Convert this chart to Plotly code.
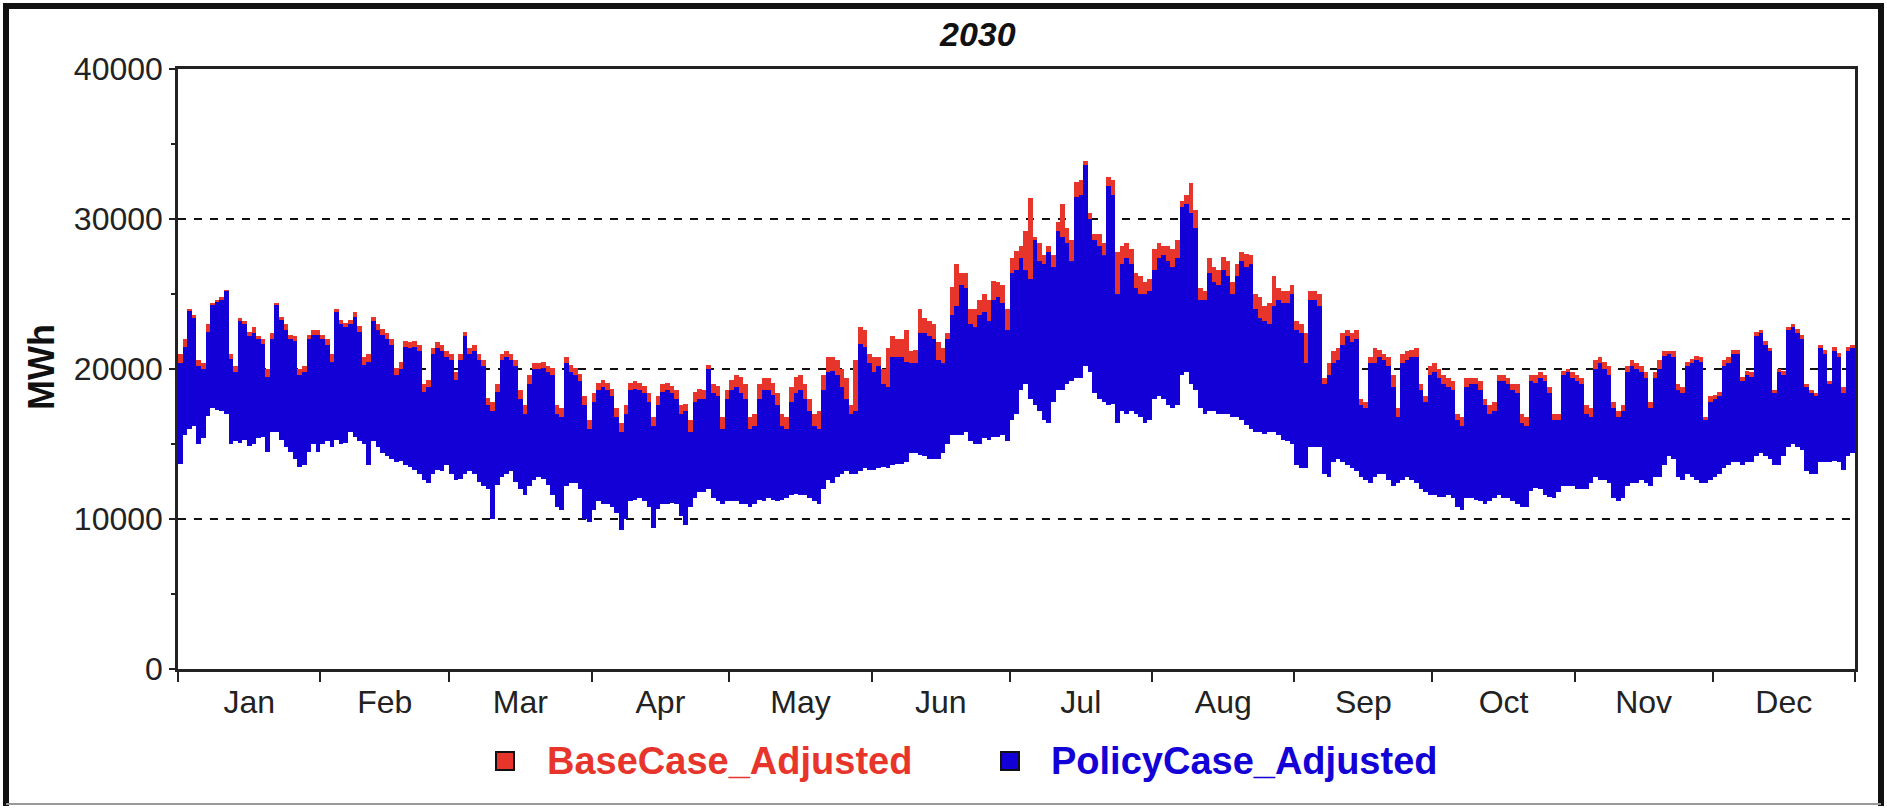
import pandas as pd
import plotly.graph_objects as go

# Daily load envelope for 2030, in GWh (thousand MWh) per hour.
# policy_peak / policy_trough: daily max / min of PolicyCase_Adjusted.
# base_peak: daily max of BaseCase_Adjusted.
policy_peak = [
    20.4, 21.5, 23.9, 23.4, 20.2, 20.0, 22.5, 24.3, 24.5, 24.6, 25.2, 20.7, 19.8, 23.2, 23.0, 22.2, 22.4, 22.0, 21.7, 19.5,
    22.0, 24.3, 23.3, 22.6, 22.0, 21.9, 19.6, 19.8, 22.0, 22.3, 22.3, 22.0, 21.6, 20.5, 23.8, 23.0, 22.8,
    23.0, 23.5, 22.5, 20.3, 20.5, 23.2, 22.6, 22.3, 22.0, 21.6, 19.6, 20.0, 21.5, 21.4, 21.5, 21.2, 18.5, 18.8, 21.0, 21.4,
    21.2, 20.8, 20.6, 19.3, 20.6, 22.2, 21.0, 21.2, 20.6, 20.2, 17.6, 17.2, 18.5, 20.6, 20.8, 20.6,
    20.2, 18.0, 17.0, 19.0, 20.0, 20.0, 20.1, 19.8, 19.6, 17.0, 16.8, 20.4, 19.8, 19.6, 19.2, 17.6, 16.0, 17.8, 18.6, 18.8,
    18.6, 18.2, 16.8, 15.8, 17.0, 18.6, 18.7, 18.6, 18.4, 17.8, 16.2, 17.6, 18.5, 18.6, 18.4, 18.0, 17.0,
    17.2, 15.8, 17.8, 18.0, 18.0, 20.0, 18.4, 18.2, 16.0, 18.0, 18.6, 18.8, 18.4, 18.0, 16.0, 16.2, 18.0, 18.6, 18.6, 18.3,
    17.6, 16.2, 16.0, 17.8, 18.4, 18.6, 18.0, 17.2, 16.2, 16.0, 18.6, 19.8, 19.9, 19.6, 18.8, 18.0,
    17.0, 17.2, 21.7, 21.5, 20.4, 19.8, 20.2, 19.0, 18.8, 20.8, 20.8, 20.8, 20.5, 20.4, 20.4, 22.4, 22.4, 22.2, 22.0, 20.6,
    20.4, 22.0, 23.6, 24.2, 25.6, 25.4, 23.0, 22.8, 23.6, 23.8, 23.2, 24.6, 24.8, 24.4, 22.6, 26.4, 26.6,
    27.4, 26.6, 26.0, 28.6, 27.2, 27.0, 27.8, 26.8, 29.2, 28.8, 28.4, 27.2, 31.5, 31.6, 33.6, 30.0, 28.6, 28.2, 27.6, 32.2,
    31.6, 25.0, 27.0, 27.4, 27.0, 25.4, 25.0, 25.0, 25.2, 26.6, 27.4, 27.6, 27.2, 26.8, 27.4, 30.8, 31.0,
    30.4, 29.4, 24.6, 24.6, 26.4, 25.8, 25.6, 26.6, 26.2, 25.0, 26.2, 27.2, 26.8, 27.0, 24.0, 23.4, 23.2, 23.0, 24.2, 24.6,
    24.4, 24.4, 25.0, 22.6, 22.4, 20.4, 24.6, 24.6, 24.2, 19.0, 19.6, 20.4, 20.6, 21.6, 22.2, 21.8,
    22.0, 17.6, 17.4, 20.4, 20.4, 20.8, 20.6, 20.2, 18.8, 16.8, 20.4, 20.6, 20.8, 20.8, 18.6, 17.8, 19.6, 19.8, 19.4, 19.0,
    18.8, 18.6, 16.6, 16.2, 18.8, 19.0, 19.0, 18.6, 17.6, 17.0, 17.2, 19.2, 19.2, 19.0, 18.6, 18.4,
    16.4, 16.2, 19.2, 19.1, 19.4, 19.2, 18.4, 16.6, 16.6, 19.6, 19.8, 19.4, 19.2, 19.0, 17.0, 16.8, 20.0, 20.4, 20.0, 19.6,
    17.4, 16.8, 17.2, 19.8, 20.2, 20.0, 19.8, 19.4, 17.4, 19.4, 20.0, 20.9, 21.0, 20.8, 18.6, 18.4, 20.2,
    20.4, 20.6, 20.5, 16.6, 17.8, 18.0, 18.2, 20.2, 20.4, 21.0, 21.0, 19.2, 19.6, 19.5, 22.2, 22.4, 21.6, 21.2, 18.4, 19.8,
    19.6, 22.6, 22.8, 22.4, 22.0, 18.8, 18.4, 18.2, 21.4, 21.0, 19.0, 21.2, 20.8, 18.4, 21.2, 21.4,
]

policy_trough = [
    13.7, 15.6, 16.0, 16.2, 15.0, 15.4, 16.9, 17.4, 17.3, 17.2, 17.0, 15.0, 15.2, 15.1, 15.3, 14.9, 15.0, 15.4, 15.5, 14.5,
    15.8, 15.8, 15.3, 14.8, 14.5, 14.0, 13.5, 13.6, 14.5, 15.0, 14.5, 15.0, 15.2, 14.8, 15.3, 15.0, 15.1,
    15.8, 15.5, 15.2, 15.0, 13.6, 15.2, 14.8, 14.4, 14.2, 14.0, 13.8, 13.9, 13.6, 13.5, 13.3, 13.0, 12.6, 12.4, 13.0, 13.3,
    13.2, 13.6, 13.0, 12.6, 12.7, 13.0, 13.2, 13.0, 12.5, 12.2, 12.0, 10.0, 12.3, 12.8, 13.0, 13.2,
    12.5, 12.0, 11.6, 12.2, 12.6, 12.8, 12.7, 12.3, 11.6, 10.8, 10.6, 12.2, 12.4, 12.4, 12.0, 10.0, 9.8, 10.6, 11.2, 11.0,
    11.0, 10.8, 10.4, 9.3, 10.0, 11.2, 11.3, 11.4, 11.2, 10.8, 9.4, 10.7, 11.0, 11.0, 11.1, 11.0, 10.2,
    9.6, 10.8, 11.4, 11.8, 11.8, 12.0, 11.4, 11.2, 11.0, 11.2, 11.2, 11.2, 11.0, 11.0, 10.8, 11.0, 11.3, 11.2, 11.4, 11.3,
    11.2, 11.3, 11.4, 11.6, 11.7, 11.6, 11.6, 11.4, 11.2, 11.0, 12.0, 12.6, 12.4, 12.8, 13.0, 13.2,
    13.0, 13.0, 13.2, 13.4, 13.3, 13.3, 13.4, 13.5, 13.4, 13.6, 13.7, 13.7, 13.8, 14.4, 14.4, 14.3, 14.2, 14.0, 14.0, 14.0,
    14.4, 15.0, 15.6, 15.6, 15.6, 15.8, 15.2, 15.0, 15.0, 15.4, 15.3, 15.5, 15.5, 15.6, 15.2, 16.6, 17.0,
    18.6, 19.0, 18.0, 17.6, 17.2, 16.6, 16.4, 17.8, 18.6, 18.6, 19.0, 19.2, 19.4, 19.4, 20.2, 19.8, 18.4, 18.0, 17.8, 17.6,
    17.7, 16.4, 17.2, 17.0, 17.2, 17.0, 16.8, 16.4, 16.6, 18.0, 18.2, 18.0, 17.6, 17.4, 17.6, 19.6, 19.8,
    19.0, 18.6, 17.4, 17.0, 17.2, 17.2, 17.0, 17.0, 17.0, 16.8, 16.8, 16.6, 16.3, 16.0, 15.8, 15.8, 15.7, 15.8, 15.8, 15.6,
    15.3, 15.2, 15.0, 13.6, 13.4, 13.4, 14.8, 14.8, 14.8, 13.0, 12.8, 13.8, 14.0, 13.8, 13.6, 13.4,
    13.2, 12.8, 12.6, 12.4, 12.8, 13.0, 13.0, 12.6, 12.2, 12.4, 12.6, 12.8, 12.6, 12.4, 12.0, 11.8, 11.6, 11.6, 11.5, 11.5,
    11.6, 11.4, 10.8, 10.6, 11.4, 11.4, 11.3, 11.2, 11.0, 11.2, 11.4, 11.6, 11.4, 11.4, 11.2, 11.0,
    10.8, 10.8, 11.9, 12.1, 12.0, 11.6, 11.5, 11.4, 11.8, 12.2, 12.2, 12.2, 12.0, 12.0, 12.0, 12.4, 12.8, 12.6, 12.6, 12.4,
    11.4, 11.2, 11.4, 12.2, 12.4, 12.4, 12.6, 12.4, 12.2, 12.8, 12.8, 13.6, 14.2, 14.0, 12.8, 12.6, 13.0,
    12.8, 12.6, 12.4, 12.4, 12.6, 12.8, 13.0, 13.4, 13.6, 13.8, 13.8, 13.6, 13.8, 13.8, 14.2, 14.4, 14.2, 14.0, 13.6, 13.6,
    14.2, 14.8, 15.0, 14.8, 14.6, 13.2, 13.0, 13.0, 13.8, 13.8, 13.8, 13.9, 13.8, 13.3, 14.2, 14.4,
]

base_peak = [
    21.0, 22.0, 24.0, 23.6, 20.6, 20.4, 23.0, 24.4, 24.6, 24.8, 25.3, 21.0, 20.2, 23.4, 23.2, 22.5, 22.8, 22.2, 22.0, 20.0,
    22.4, 24.4, 23.5, 23.0, 22.3, 22.2, 20.0, 20.2, 22.3, 22.6, 22.6, 22.3, 22.0, 21.0, 24.0, 23.3, 23.1,
    23.3, 23.8, 22.9, 20.8, 21.0, 23.5, 23.0, 22.7, 22.4, 22.0, 20.1, 20.5, 21.9, 21.8, 21.9, 21.6, 19.0, 19.3, 21.4, 21.8,
    21.6, 21.2, 21.0, 19.8, 21.0, 22.5, 21.4, 21.6, 21.0, 20.6, 18.1, 17.8, 19.0, 21.0, 21.2, 21.0,
    20.6, 18.6, 17.6, 19.6, 20.4, 20.4, 20.5, 20.2, 20.1, 17.6, 17.4, 20.8, 20.3, 20.1, 19.7, 18.2, 16.6, 18.4, 19.1, 19.3,
    19.1, 18.7, 17.4, 16.4, 17.6, 19.1, 19.2, 19.1, 18.9, 18.4, 16.8, 18.2, 19.0, 19.1, 18.9, 18.6, 17.6,
    17.7, 16.6, 18.5, 18.7, 18.6, 20.3, 19.0, 18.9, 16.8, 18.6, 19.3, 19.6, 19.5, 19.0, 16.8, 17.0, 19.0, 19.4, 19.4, 19.1,
    18.4, 17.0, 16.8, 18.8, 19.5, 19.6, 19.0, 18.0, 17.0, 17.2, 19.6, 20.8, 20.8, 20.6, 20.0, 19.4,
    17.6, 20.6, 22.8, 22.6, 21.0, 20.8, 20.8, 20.0, 21.4, 22.2, 22.0, 22.0, 22.6, 21.2, 21.3, 24.0, 23.4, 23.2, 23.0, 21.8,
    21.4, 22.4, 25.5, 27.0, 26.4, 26.4, 24.0, 24.0, 24.6, 25.0, 24.6, 25.9, 25.8, 25.6, 24.0, 27.4, 27.9,
    28.2, 29.2, 31.4, 28.8, 28.4, 27.6, 28.2, 27.6, 29.8, 31.0, 29.4, 28.6, 32.5, 32.6, 33.9, 30.4, 29.0, 29.0, 28.4, 32.8,
    32.6, 27.8, 28.2, 28.4, 28.0, 26.4, 26.2, 25.8, 26.0, 28.0, 28.4, 28.2, 28.2, 28.0, 28.6, 31.2, 31.6,
    32.4, 30.6, 25.4, 25.2, 27.4, 26.8, 26.6, 27.5, 27.2, 25.8, 27.0, 27.8, 27.7, 27.6, 25.0, 24.8, 24.2, 24.4, 26.2, 25.4,
    25.2, 25.2, 25.6, 23.2, 23.0, 22.4, 25.2, 25.2, 25.0, 19.4, 20.4, 21.2, 21.4, 22.4, 22.6, 22.4,
    22.6, 18.0, 17.8, 20.8, 21.4, 21.3, 21.0, 20.8, 19.6, 17.4, 21.0, 21.2, 21.3, 21.4, 19.0, 18.2, 20.2, 20.4, 20.0, 19.6,
    19.4, 19.2, 17.0, 16.8, 19.4, 19.4, 19.4, 19.2, 18.0, 17.6, 17.8, 19.6, 19.6, 19.4, 19.0, 19.0,
    17.0, 16.8, 19.6, 19.6, 19.8, 19.6, 18.8, 17.0, 17.0, 19.9, 20.0, 19.8, 19.6, 19.4, 17.6, 17.4, 20.6, 20.8, 20.5, 20.2,
    17.8, 17.2, 17.6, 20.2, 20.6, 20.4, 20.2, 19.8, 17.8, 19.8, 20.6, 21.2, 21.2, 21.2, 19.0, 18.8, 20.5,
    20.7, 20.9, 20.8, 16.8, 18.2, 18.3, 18.5, 20.6, 20.8, 21.3, 21.3, 19.5, 19.9, 19.8, 22.5, 22.6, 21.9, 21.4, 18.6, 20.0,
    19.9, 22.8, 23.0, 22.7, 22.3, 19.0, 18.6, 18.4, 21.6, 21.3, 19.2, 21.5, 21.1, 18.8, 21.5, 21.6,
]

YEAR = 2030
TITLE = "2030"
Y_LABEL = "MWh"
SERIES = ["BaseCase_Adjusted", "PolicyCase_Adjusted"]
RED = "#e8352b"
BLUE = "#1300d6"
FONT = "Liberation Sans, Arial, sans-serif"

n = min(len(policy_peak), len(policy_trough), len(base_peak))
days = pd.date_range(f"{YEAR}-01-01 12:00", periods=n, freq="D")
to_mwh = lambda v: [x * 1000 for x in v[:n]]
p_hi, p_lo, b_hi = to_mwh(policy_peak), to_mwh(policy_trough), to_mwh(base_peak)
DAY_MS = 86400000

fig = go.Figure()
# BaseCase drawn first, PolicyCase on top: red shows where base exceeds policy
fig.add_trace(go.Bar(
    x=days, base=p_lo, y=[h - l for h, l in zip(b_hi, p_lo)], width=DAY_MS,
    marker=dict(color=RED, line=dict(width=0)), name=SERIES[0], showlegend=False,
    hoverinfo="skip",
))
fig.add_trace(go.Bar(
    x=days, base=p_lo, y=[h - l for h, l in zip(p_hi, p_lo)], width=DAY_MS,
    marker=dict(color=BLUE, line=dict(width=0)), name=SERIES[1], showlegend=False,
    hoverinfo="skip",
))

W, H = 1887, 808
L, R, T, B = 178, 1855, 69, 669  # plot area in pixels
def px(x):
    return (x - L) / (R - L)
def py(y):
    return (B - y) / (B - T)

TICK_FONT = dict(family=FONT, size=32, color="#222")

fig.update_layout(
    width=W, height=H,
    margin=dict(l=L, r=W - R, t=T, b=H - B, pad=0),
    paper_bgcolor="white", plot_bgcolor="white",
    barmode="overlay", bargap=0,
    font=dict(family=FONT, color="#222"),
    xaxis=dict(
        type="date", range=[f"{YEAR}-01-01", f"{YEAR + 1}-01-01"],
        tick0=f"{YEAR}-01-01", dtick="M1", tickformat="%b", ticklabelmode="period",
        ticks="outside", ticklen=10, tickwidth=2, tickcolor="#222",
        showline=True, linecolor="#222", linewidth=2.5, mirror=True,
        showgrid=False, zeroline=False, tickfont=TICK_FONT, ticklabelstandoff=-7,
    ),
    yaxis=dict(
        range=[0, 40000], tick0=0, dtick=10000, tickformat="d",
        ticks="outside", ticklen=6, tickwidth=2, tickcolor="#222",
        minor=dict(dtick=5000, ticks="outside", ticklen=4, tickwidth=2, tickcolor="#222", showgrid=False),
        showline=True, linecolor="#222", linewidth=2.5, mirror=True,
        showgrid=True, gridcolor="#111", gridwidth=2, griddash="8px,8px",
        zeroline=False, tickfont=TICK_FONT,
    ),
)

annotations = [
    dict(text=f"<b><i>{TITLE}</i></b>", x=px(977), y=py(34), xref="paper", yref="paper",
         showarrow=False, xanchor="center", yanchor="middle",
         font=dict(family=FONT, size=34, color="#111")),
    dict(text=f"<b>{Y_LABEL}</b>", x=px(41), y=py(367), xref="paper", yref="paper",
         showarrow=False, xanchor="center", yanchor="middle", textangle=-90,
         font=dict(family=FONT, size=36, color="#111")),
]
shapes = []
legend_items = [(SERIES[0], RED, 496, 545), (SERIES[1], BLUE, 1001, 1049)]
for label, color, sq_x, text_x in legend_items:
    shapes.append(dict(type="rect", xref="paper", yref="paper",
                       x0=px(sq_x), x1=px(sq_x + 18), y0=py(770), y1=py(752),
                       fillcolor=color, line=dict(color="#111", width=2)))
    annotations.append(dict(text=f"<b>{label}</b>", x=px(text_x), y=py(761),
                            xref="paper", yref="paper", showarrow=False,
                            xanchor="left", yanchor="middle",
                            font=dict(family=FONT, size=38, color=color)))

# outer frame around the whole chart
shapes.append(dict(type="path", xref="paper", yref="paper",
                   path=f"M {px(6)} {py(806)} L {px(6)} {py(6)} L {px(1881)} {py(6)} L {px(1881)} {py(806)}",
                   line=dict(color="#111", width=6)))
shapes.append(dict(type="line", xref="paper", yref="paper",
                   x0=px(6), x1=px(1881), y0=py(804), y1=py(804),
                   line=dict(color="#999", width=2)))

fig.update_layout(annotations=annotations, shapes=shapes)
fig.write_html("out.html")
